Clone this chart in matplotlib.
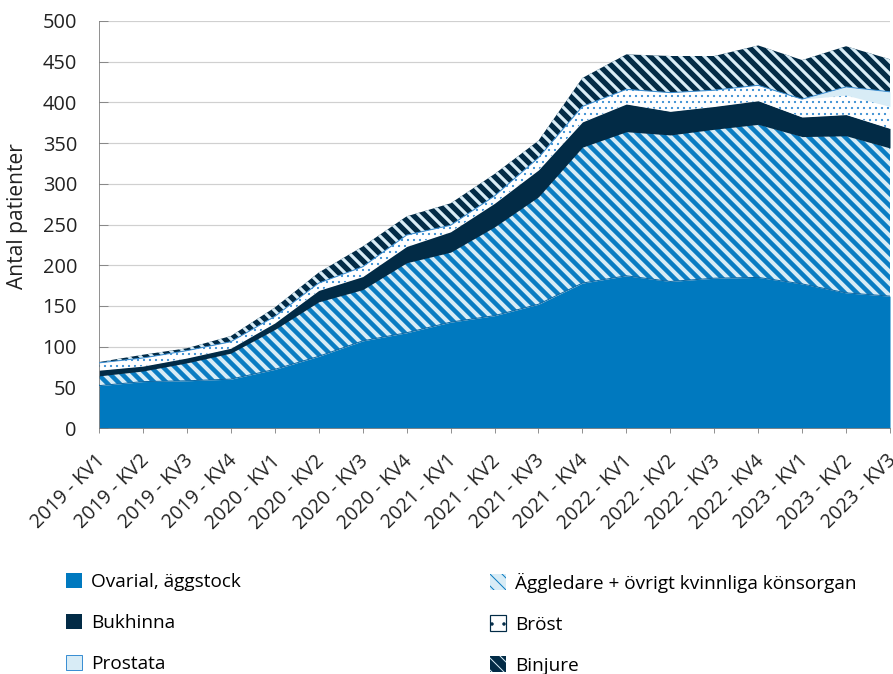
import matplotlib
matplotlib.use("Agg")
import matplotlib.pyplot as plt
import matplotlib.patches as mpatches
import matplotlib.transforms as mtransforms
import numpy as np

plt.rcParams['font.family'] = ['Open Sans', 'DejaVu Sans']

quarters = [f"{y} - KV{q}" for y in range(2019, 2024) for q in range(1, 5)][:19]

ovarial = [52, 57, 58, 60, 72, 88, 107, 117, 130, 138, 152, 178, 187, 180, 184, 185, 177, 166, 162]
aggledare = [12, 13, 22, 32, 49, 67, 63, 86, 86, 109, 132, 167, 177, 180, 183, 188, 181, 193, 182]
bukhinna = [7, 6, 6, 6, 8, 14, 16, 20, 25, 29, 33, 31, 34, 29, 28, 29, 24, 26, 24]
brost = [9, 10, 9, 8, 8, 9, 12, 14, 8, 9, 15, 19, 18, 23, 20, 19, 22, 24, 27]
prostata = [0, 0, 0, 0, 0, 0, 0, 0, 0, 0, 0, 0, 0, 0, 0, 0, 0, 10, 18]
binjure = [1, 4, 3, 7, 11, 13, 25, 23, 27, 27, 21, 35, 43, 45, 42, 49, 48, 50, 40]

labels = ["Ovarial, äggstock", "Äggledare + övrigt kvinnliga könsorgan", "Bukhinna",
          "Bröst", "Prostata", "Binjure"]

BLUE = '#0079bf'
NAVY = '#022b46'
LIGHT = '#d8ecf6'

# (face, hatch colour, hatch, hatch linewidth)
styles = [
    (BLUE, BLUE, None, 1),
    (LIGHT, '#0a7cc2', '\\\\', 4.5),
    (NAVY, NAVY, None, 1),
    ('white', '#3b8fd3', '..', 1.0),
    (LIGHT, '#3b8fd3', None, 1),
    (NAVY, LIGHT, '\\\\', 3.2),
]

series = [ovarial, aggledare, bukhinna, brost, prostata, binjure]

fig = plt.figure(figsize=(893 / 72, 674 / 72), dpi=72)
ax = fig.add_axes([99 / 893, 1 - 428 / 674, (890 - 99) / 893, (428 - 21) / 674])

x = np.arange(len(quarters))
base = np.zeros(len(x))
handles = []
for vals, (face, hc, hatch, hlw), lab in zip(series, styles, labels):
    top = base + np.array(vals)
    with plt.rc_context({'hatch.linewidth': hlw}):
        coll = ax.fill_between(x, base, top, facecolor=face, edgecolor=hc,
                               hatch=hatch, linewidth=0, zorder=2)
        if hasattr(coll, 'set_hatch_linewidth'):
            coll.set_hatch_linewidth(hlw)
        p = mpatches.Patch(facecolor=face, edgecolor=hc, hatch=hatch, linewidth=0)
        if lab == "Prostata":
            p = mpatches.Patch(facecolor=face, edgecolor='#3b8fd3', linewidth=1)
    if lab == "Bröst":
        with plt.rc_context({'hatch.linewidth': 1.2}):
            p = mpatches.Patch(facecolor=face, edgecolor=NAVY, hatch='.', linewidth=1.2)
    if lab == "Prostata":
        ax.plot(x, top, color='#3b8fd3', lw=1, zorder=3)
    if lab == "Ovarial, äggstock":
        ax.plot(x, top, color='#0a66a3', lw=1, zorder=3)
    handles.append(p)
    base = top

ax.set_xlim(0, len(x) - 1)
ax.set_ylim(0, 500)
ax.set_yticks(range(0, 501, 50))
ax.yaxis.grid(True, color='#d0d0d0', lw=1.2, zorder=0)
ax.set_axisbelow(True)
ax.set_xticks(x)
ax.set_xticklabels(quarters, rotation=45, ha='right', va='top', rotation_mode='anchor')
ax.tick_params(axis='y', labelsize=20, colors='#222222')
ax.tick_params(axis='x', labelsize=19.5, colors='#222222')
ax.tick_params(axis='x', length=5, color='#777777', pad=18)
ax.tick_params(axis='y', direction='in', length=9, color='#777777', pad=22)
shift = mtransforms.ScaledTranslation(-4 / 72, 0, fig.dpi_scale_trans)
for t in ax.get_xticklabels():
    t.set_transform(t.get_transform() + shift)
for s in ['top', 'right']:
    ax.spines[s].set_visible(False)
ax.spines['left'].set_color('#777777')
ax.spines['bottom'].set_color('#777777')
fig.text(18 / 893, 1 - 216 / 674, "Antal patienter", fontsize=21, color='#222222',
         rotation=90, ha='center', va='center')

leg_kw = dict(frameon=False, fontsize=19, handlelength=0.85, handleheight=0.85,
              handletextpad=0.5, labelspacing=1.2, borderaxespad=0)
leg1 = fig.legend([handles[0], handles[2], handles[4]],
                  [labels[0], labels[2], labels[4]],
                  loc='upper left', bbox_to_anchor=(58 / 893, 1 - 565 / 674), **leg_kw)
leg2 = fig.legend([handles[1], handles[3], handles[5]],
                  [labels[1], labels[3], labels[5]],
                  loc='upper left', bbox_to_anchor=(482 / 893, 1 - 565 / 674), **leg_kw)

fig.savefig("out.png", dpi=72)
